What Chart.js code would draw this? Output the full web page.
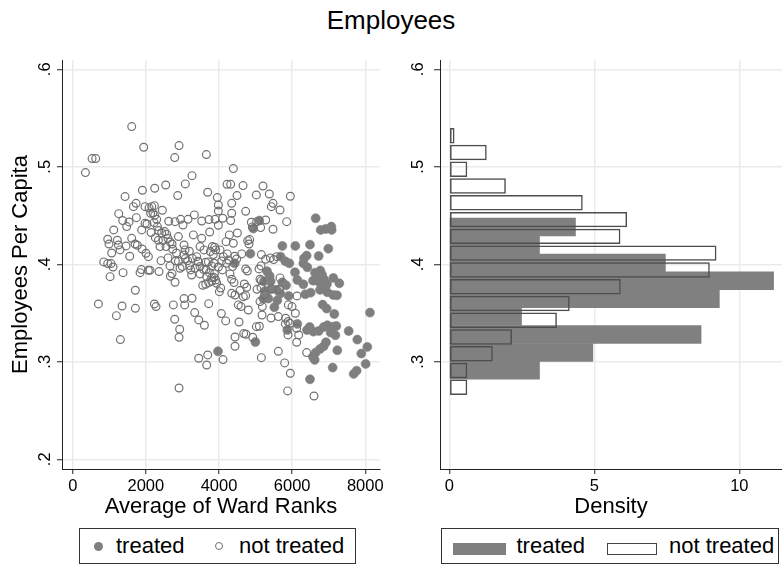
<!DOCTYPE html>
<html>
<head>
<meta charset="utf-8">
<script src="https://cdn.jsdelivr.net/npm/chart.js@4.4.1/dist/chart.umd.min.js"></script>
<style>
  html, body { margin: 0; padding: 0; background: #fff; }
  #page { position: relative; width: 782px; height: 565px; overflow: hidden;
          font-family: 'Liberation Sans', Arial, sans-serif; color: #000; }
  #title { position: absolute; left: 0; top: 7px; width: 782px; text-align: center;
           font-size: 26px; line-height: 26px; }
  canvas { position: absolute; top: 40px; }
  #scatterCanvas { left: 0; }
  #histCanvas { left: 392px; }
  .legend { position: absolute; top: 528px; height: 36px; box-sizing: border-box;
            border: 1px solid #333; background: #fff; }
  .legend span { position: absolute; top: 0; height: 34px; line-height: 34px;
                 font-size: 22px; white-space: nowrap; }
  .legend i { position: absolute; display: block; box-sizing: border-box; }
</style>
</head>
<body>
<div id="page">
  <div id="title">Employees</div>
  <canvas id="scatterCanvas" width="392" height="490"></canvas>
  <canvas id="histCanvas" width="390" height="490"></canvas>

  <div class="legend" style="left:79px;width:277px;">
    <i style="left:14px;top:12.5px;width:9px;height:9px;border-radius:50%;background:#7f7f7f;"></i>
    <span style="left:36px;">treated</span>
    <i style="left:135px;top:13px;width:8px;height:8px;border-radius:50%;border:1.2px solid #707070;"></i>
    <span style="left:159px;">not treated</span>
  </div>
  <div class="legend" style="left:441px;width:338px;">
    <i style="left:10.5px;top:13.5px;width:53.5px;height:12px;background:#808080;"></i>
    <span style="left:74.5px;">treated</span>
    <i style="left:164.5px;top:13.5px;width:50px;height:12px;border:1.3px solid #444;background:#fff;"></i>
    <span style="left:227px;">not treated</span>
  </div>
</div>

<script>
// Ward-level observations: average of ward ranks vs employees per capita
const treatedRank = [
  6643, 6780, 6916, 7071, 7080, 5103, 4939, 5732, 6087, 6488,
  6989, 6397, 6725, 6324, 4857, 4429, 5686, 5814, 5923, 6306,
  6415, 5313, 5385, 6078, 6142, 5230, 5413, 5732, 5832, 6306,
  6625, 6770, 6816, 6670, 6570, 6725, 6871, 6953, 7126, 7290,
  6761, 6880, 6962, 5258, 5413, 5577, 5677, 6360, 6506, 7126,
  7226, 5212, 5349, 5513, 5595, 6834, 6944, 7153, 8128, 6142,
  6406, 6479, 6725, 6862, 6962, 7108, 7208, 7181, 7545, 7782,
  5868, 4994, 3973, 6925, 6862, 6761, 6643, 6570, 6616, 7235,
  7891, 8055, 8010, 7108, 6488, 7682, 7764, 5905, 6579, 7053
];
const treatedEmp = [
  .4472, .4352, .4362, .4386, .4352, .4448, .4366, .4188, .4188, .4201,
  .4160, .4089, .4085, .4061, .4109, .4010, .4078, .4030, .4010, .4010,
  .3969, .3928, .3880, .3918, .3839, .3825, .3825, .3815, .3784, .3795,
  .3914, .3935, .3894, .3866, .3832, .3819, .3846, .3798, .3860, .3805,
  .3737, .3764, .3713, .3726, .3743, .3737, .3699, .3692, .3709, .3685,
  .3682, .3648, .3648, .3559, .3630, .3586, .3545, .3490, .3504, .3388,
  .3326, .3357, .3316, .3357, .3374, .3360, .3367, .3272, .3316, .3227,
  .3326, .3203, .3107, .3200, .3159, .3131, .3094, .3049, .3019, .3118,
  .3084, .3152, .2978, .2940, .2820, .2875, .2909, .3675, .3309, .3299
];
const notTreatedRank = [
  1613, 1941, 2907, 2789, 3654, 529, 629, 347, 4392, 3262,
  3080, 2543, 2242, 1905, 4219, 4319, 4657, 5203, 5021, 5376,
  5950, 1431, 2871, 3691, 4492, 3955, 1732, 1659, 1978, 2087,
  2160, 2233, 2132, 2196, 2242, 3982, 4347, 3982, 4347, 4729,
  5477, 5431, 5668, 1258, 1367, 1540, 1741, 2451, 2296, 2032,
  2224, 2625, 2798, 2952, 3016, 3153, 3326, 3527, 3727, 3891,
  4101, 4319, 4884, 5276, 5850, 3982, 3745, 3299, 3527, 4283,
  4502, 4912, 5139, 5477, 1121, 957, 993, 1221, 1249, 1613,
  1704, 1768, 1458, 1896, 2142, 2315, 2351, 2433, 2515, 2570,
  2606, 2661, 2260, 2342, 2470, 2716, 2552, 2734, 3044, 3071,
  3818, 3882, 3909, 4784, 4839, 4821, 2834, 1066, 1558, 2069,
  3044, 3080, 3271, 3390, 3435, 3763, 3845, 4228, 4429, 4483,
  4620, 5158, 5276, 5404, 5495, 848, 957, 1048, 1103, 1021,
  1376, 1877, 1841, 2069, 2114, 2360, 2415, 2606, 2661, 2807,
  2889, 2998, 3144, 3199, 3344, 3426, 2716, 2670, 2798, 3253,
  3636, 3709, 3800, 3864, 3982, 3645, 3736, 3873, 3800, 4073,
  4092, 3554, 3636, 3718, 3800, 3864, 3909, 4301, 4347, 4411,
  4729, 4775, 5094, 5149, 5121, 5158, 5668, 4265, 4374, 2934,
  3581, 3937, 4046, 4010, 4347, 4438, 4693, 4757, 4574, 4666,
  4729, 4529, 4602, 5039, 5149, 5249, 5650, 5440, 5185, 6133,
  5996, 6087, 702, 1194, 1349, 1713, 1713, 2233, 2278, 2752,
  3044, 3062, 3262, 3335, 3718, 4064, 4802, 5176, 5422, 5622,
  5823, 5887, 5941, 5814, 6124, 5887, 6178, 6124, 3445, 3600,
  4183, 4547, 5021, 5103, 2789, 2925, 2907, 1303, 4438, 4438,
  4675, 4738, 4921, 3445, 3691, 3663, 4110, 5158, 5622, 5795,
  5950, 6397, 5877, 6597, 2907, 5577, 4210, 5030, 5121, 5896,
  4192, 3481, 3590, 3190, 1886, 1978, 1476, 2889, 1294, 3663,
  3481, 4028, 4119, 3226, 3481, 2388, 2005, 4392
];
const notTreatedEmp = [
  .5412, .5200, .5217, .5094, .5125, .5084, .5084, .4940, .4981, .4909,
  .4824, .4813, .4779, .4759, .4820, .4820, .4807, .4803, .4711, .4721,
  .4697, .4694, .4704, .4738, .4704, .4684, .4625, .4591, .4591, .4578,
  .4591, .4601, .4523, .4526, .4502, .4608, .4625, .4547, .4523, .4543,
  .4625, .4591, .4557, .4519, .4448, .4434, .4478, .4554, .4461, .4413,
  .4427, .4441, .4437, .4461, .4403, .4461, .4506, .4444, .4458, .4461,
  .4472, .4448, .4431, .4454, .4437, .4400, .4331, .4301, .4266, .4301,
  .4321, .4383, .4376, .4359, .4352, .4256, .4208, .4246, .4198, .4266,
  .4208, .4195, .4188, .4157, .4325, .4386, .4345, .4321, .4335, .4307,
  .4263, .4229, .4273, .4246, .4242, .4208, .4181, .4154, .4198, .4147,
  .4181, .4174, .4147, .4242, .4253, .4208, .4116, .4116, .4082, .4078,
  .4095, .4058, .4061, .4078, .4024, .4130, .4099, .4106, .4082, .4054,
  .4106, .4099, .4051, .4065, .4048, .4024, .4007, .4007, .3972, .3873,
  .3914, .3945, .3914, .3938, .3938, .3925, .4037, .4065, .3983, .4034,
  .4031, .3976, .4037, .3986, .3959, .4031, .3904, .3877, .3815, .3890,
  .4020, .4024, .3983, .4010, .3972, .3945, .3914, .3901, .3863, .4034,
  .3942, .3784, .3795, .3812, .3825, .3863, .3839, .3901, .3846, .3812,
  .3952, .3931, .3952, .3983, .3846, .3832, .3860, .4044, .3976, .3959,
  .3945, .3805, .3757, .3719, .3702, .3685, .3798, .3764, .3730, .3668,
  .3678, .3583, .3566, .3743, .3760, .3689, .3743, .3750, .3566, .3675,
  .3566, .3497, .3593, .3473, .3572, .3548, .3733, .3593, .3566, .3583,
  .3648, .3583, .3651, .3504, .3596, .3494, .3531, .3480, .3449, .3463,
  .3446, .3412, .3395, .3388, .3343, .3275, .3275, .3200, .3429, .3374,
  .3419, .3408, .3360, .3364, .3436, .3333, .3251, .3227, .3254, .3159,
  .3289, .3282, .3251, .3036, .3070, .2967, .3022, .3042, .3107, .2988,
  .2882, .3094, .2701, .2649, .2731, .4078, .4010, .4437, .3617, .3583,
  .4232, .4181, .4147, .4133, .4352, .4420, .4386, .4284, .4147, .3873,
  .3901, .4147, .4078, .3942, .3976, .4181, .4113, .4215
];

// Histogram bins (bin midpoints, employees per capita) and densities, bottom to top
const treatedBinMid = [.2912, .3095, .3279, .3463, .3646, .3830, .4014, .4197, .4381];
const treatedDensity = [3.11, 4.95, 8.68, 2.49, 9.31, 11.18, 7.45, 3.11, 4.35];
const notTreatedBinMid = [.2738, .2910, .3082, .3254, .3426, .3598, .3770, .3942,
                          .4114, .4286, .4458, .4630, .4802, .4974, .5146, .5318];
const notTreatedDensity = [0.62, 0.62, 1.50, 2.16, 3.71, 4.15, 5.91, 8.98,
                           9.21, 5.90, 6.13, 4.60, 1.95, 0.62, 1.29, 0.18];

// Axis ticks
const rankTicks = [0, 2000, 4000, 6000, 8000];
const empTicksScatter = [0.2, 0.3, 0.4, 0.5, 0.6];
const empTicksHist = [0.3, 0.4, 0.5, 0.6];
const densityTicks = [0, 5, 10];

const FAMILY = "'Liberation Sans', Arial, sans-serif";
const GRID = { color: '#ebebeb', lineWidth: 1.5, tickColor: '#222', tickLength: 5, tickWidth: 1, offset: false };
const BORDER = { color: '#222', width: 1 };
const fmtShare = v => Number(v).toFixed(1).replace(/^0\./, '.');
const setTicks = list => scale => { scale.ticks = list.map(v => ({ value: v })); };
const toPoints = (xs, ys) => xs.map((x, i) => ({ x: x, y: ys[i] }));

Chart.defaults.font.family = FAMILY;

// Left panel: scatter of employees per capita against average ward rank
new Chart(document.getElementById('scatterCanvas'), {
  type: 'scatter',
  data: {
    datasets: [
      {
        label: 'treated',
        data: toPoints(treatedRank, treatedEmp),
        order: 2,
        pointRadius: 4.5,
        pointBackgroundColor: '#7f7f7f',
        pointBorderColor: '#7f7f7f',
        pointBorderWidth: 0.6
      },
      {
        label: 'not treated',
        data: toPoints(notTreatedRank, notTreatedEmp),
        order: 1,
        pointRadius: 3.9,
        pointBackgroundColor: 'rgba(0,0,0,0)',
        pointBorderColor: '#707070',
        pointBorderWidth: 1.2
      }
    ]
  },
  options: {
    responsive: false,
    animation: false,
    events: [],
    layout: { padding: { left: 0, right: 12, top: 20, bottom: 0 } },
    plugins: { legend: { display: false }, tooltip: { enabled: false } },
    scales: {
      x: {
        type: 'linear', min: -293, max: 8402,
        afterBuildTicks: setTicks(rankTicks),
        afterFit: s => { s.height = 61; },
        grid: GRID, border: BORDER,
        ticks: { color: '#000', font: { size: 16.5 }, padding: 3, maxRotation: 0, autoSkip: false,
                 callback: v => String(v) },
        title: { display: true, text: 'Average of Ward Ranks', color: '#000',
                 font: { size: 22 }, padding: { top: 0, bottom: 10 } }
      },
      y: {
        type: 'linear', min: 0.19, max: 0.6095,
        afterBuildTicks: setTicks(empTicksScatter),
        afterFit: s => { s.width = 62; },
        grid: GRID, border: BORDER,
        ticks: { color: '#000', font: { size: 16.5 }, padding: 5, minRotation: 90, maxRotation: 90,
                 crossAlign: 'center', autoSkip: false, callback: fmtShare },
        title: { display: true, text: 'Employees Per Capita', color: '#000',
                 font: { size: 22 }, padding: { top: 8, bottom: 0 } }
      }
    }
  }
});

// Right panel: horizontal density histograms by group
new Chart(document.getElementById('histCanvas'), {
  type: 'bar',
  data: {
    datasets: [
      {
        label: 'treated',
        data: toPoints(treatedDensity, treatedBinMid),
        yAxisID: 'y',
        order: 2,
        backgroundColor: '#808080',
        borderWidth: 0,
        barPercentage: 1,
        categoryPercentage: 1,
        grouped: false
      },
      {
        label: 'not treated',
        data: toPoints(notTreatedDensity, notTreatedBinMid),
        yAxisID: 'y2',
        order: 1,
        backgroundColor: 'rgba(0,0,0,0)',
        borderColor: '#4d4d4d',
        borderWidth: 1.5,
        borderSkipped: false,
        barPercentage: 0.92,
        categoryPercentage: 1,
        grouped: false
      }
    ]
  },
  options: {
    indexAxis: 'y',
    responsive: false,
    animation: false,
    events: [],
    layout: { padding: { left: 0, right: 0, top: 20, bottom: 0 } },
    plugins: { legend: { display: false }, tooltip: { enabled: false } },
    scales: {
      x: {
        type: 'linear', position: 'bottom', min: -0.32, max: 11.47, offset: false,
        afterBuildTicks: setTicks(densityTicks),
        afterFit: s => { s.height = 61; },
        grid: GRID, border: BORDER,
        ticks: { color: '#000', font: { size: 16.5 }, padding: 3, maxRotation: 0, autoSkip: false,
                 callback: v => String(v) },
        title: { display: true, text: 'Density', color: '#000',
                 font: { size: 22 }, padding: { top: 0, bottom: 10 } }
      },
      y: {
        type: 'linear', position: 'left', min: 0.19, max: 0.6095, offset: false,
        afterBuildTicks: setTicks(empTicksHist),
        afterFit: s => { s.width = 48; },
        grid: Object.assign({}, GRID, { tickLength: 6 }), border: BORDER,
        ticks: { color: '#000', font: { size: 16.5 }, padding: 8.5, minRotation: 90, maxRotation: 90,
                 crossAlign: 'center', autoSkip: false, callback: fmtShare }
      },
      y2: {
        type: 'linear', position: 'left', min: 0.19, max: 0.6095, offset: false, display: false,
        grid: { offset: false },
        afterBuildTicks: setTicks(empTicksHist)
      }
    }
  }
});
</script>
</body>
</html>
